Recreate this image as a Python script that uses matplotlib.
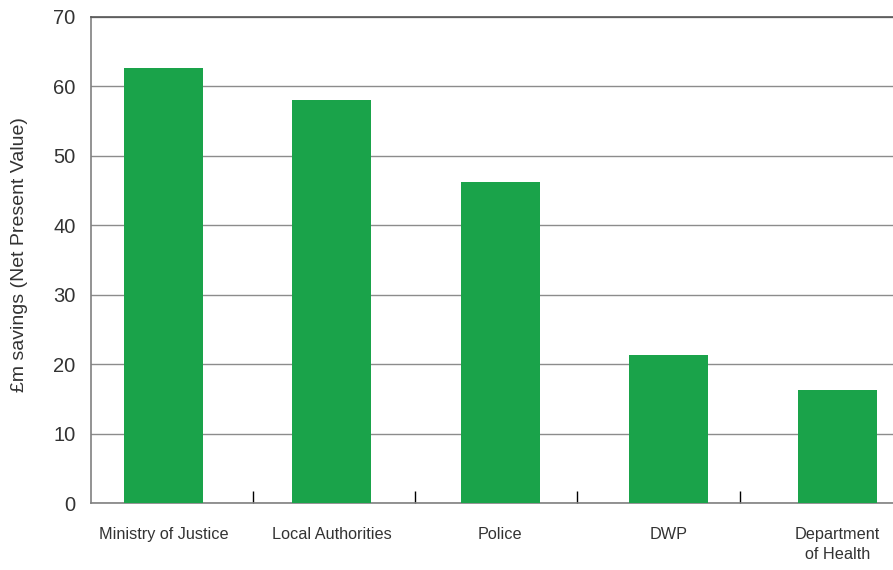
import matplotlib.pyplot as plt
import numpy as np

# Data
departments = ["Ministry of Justice", "Local Authorities", "Police", "DWP", "Department\nof Health"]
savings = [62.7, 58.1, 46.3, 21.3, 16.3]
y_ticks = [0, 10, 20, 30, 40, 50, 60, 70]
separators = [0.531, 1.493, 2.454, 3.421]

plt.rcParams["font.family"] = ["Liberation Sans", "DejaVu Sans"]

fig = plt.figure(figsize=(8.93, 5.70), dpi=100)
ax = fig.add_axes([0.1019, 0.1175, 0.8981, 0.8527])

x = np.arange(len(departments))
ax.bar(x, savings, width=0.469, color="#1aa34a", zorder=3)

ax.set_xlim(-0.43, 4.33)
ax.set_ylim(0, 70)

# Horizontal grid
ax.set_yticks(y_ticks)
ax.yaxis.grid(True, color="#8c8c8c", linewidth=1)
ax.set_axisbelow(True)
ax.tick_params(axis="y", length=0, pad=11, labelsize=14.5, labelcolor="#333333")

# Category labels and separator ticks
ax.set_xticks(x)
ax.set_xticklabels(departments, fontsize=11.7, color="#333333", linespacing=1.45)
ax.tick_params(axis="x", which="major", length=0, pad=17)
ax.set_xticks(separators, minor=True)
ax.tick_params(axis="x", which="minor", direction="in", length=9, width=1, color="black")

for side in ["left", "bottom", "top"]:
    ax.spines[side].set_color("#808080")
    ax.spines[side].set_linewidth(1.2)
ax.spines["top"].set_color("#555555")
ax.spines["right"].set_visible(False)

ax.set_ylabel("£m savings (Net Present Value)", fontsize=14, color="#333333")
ax.yaxis.set_label_coords(-0.078, 0.511)

fig.savefig("out.png", dpi=100)
